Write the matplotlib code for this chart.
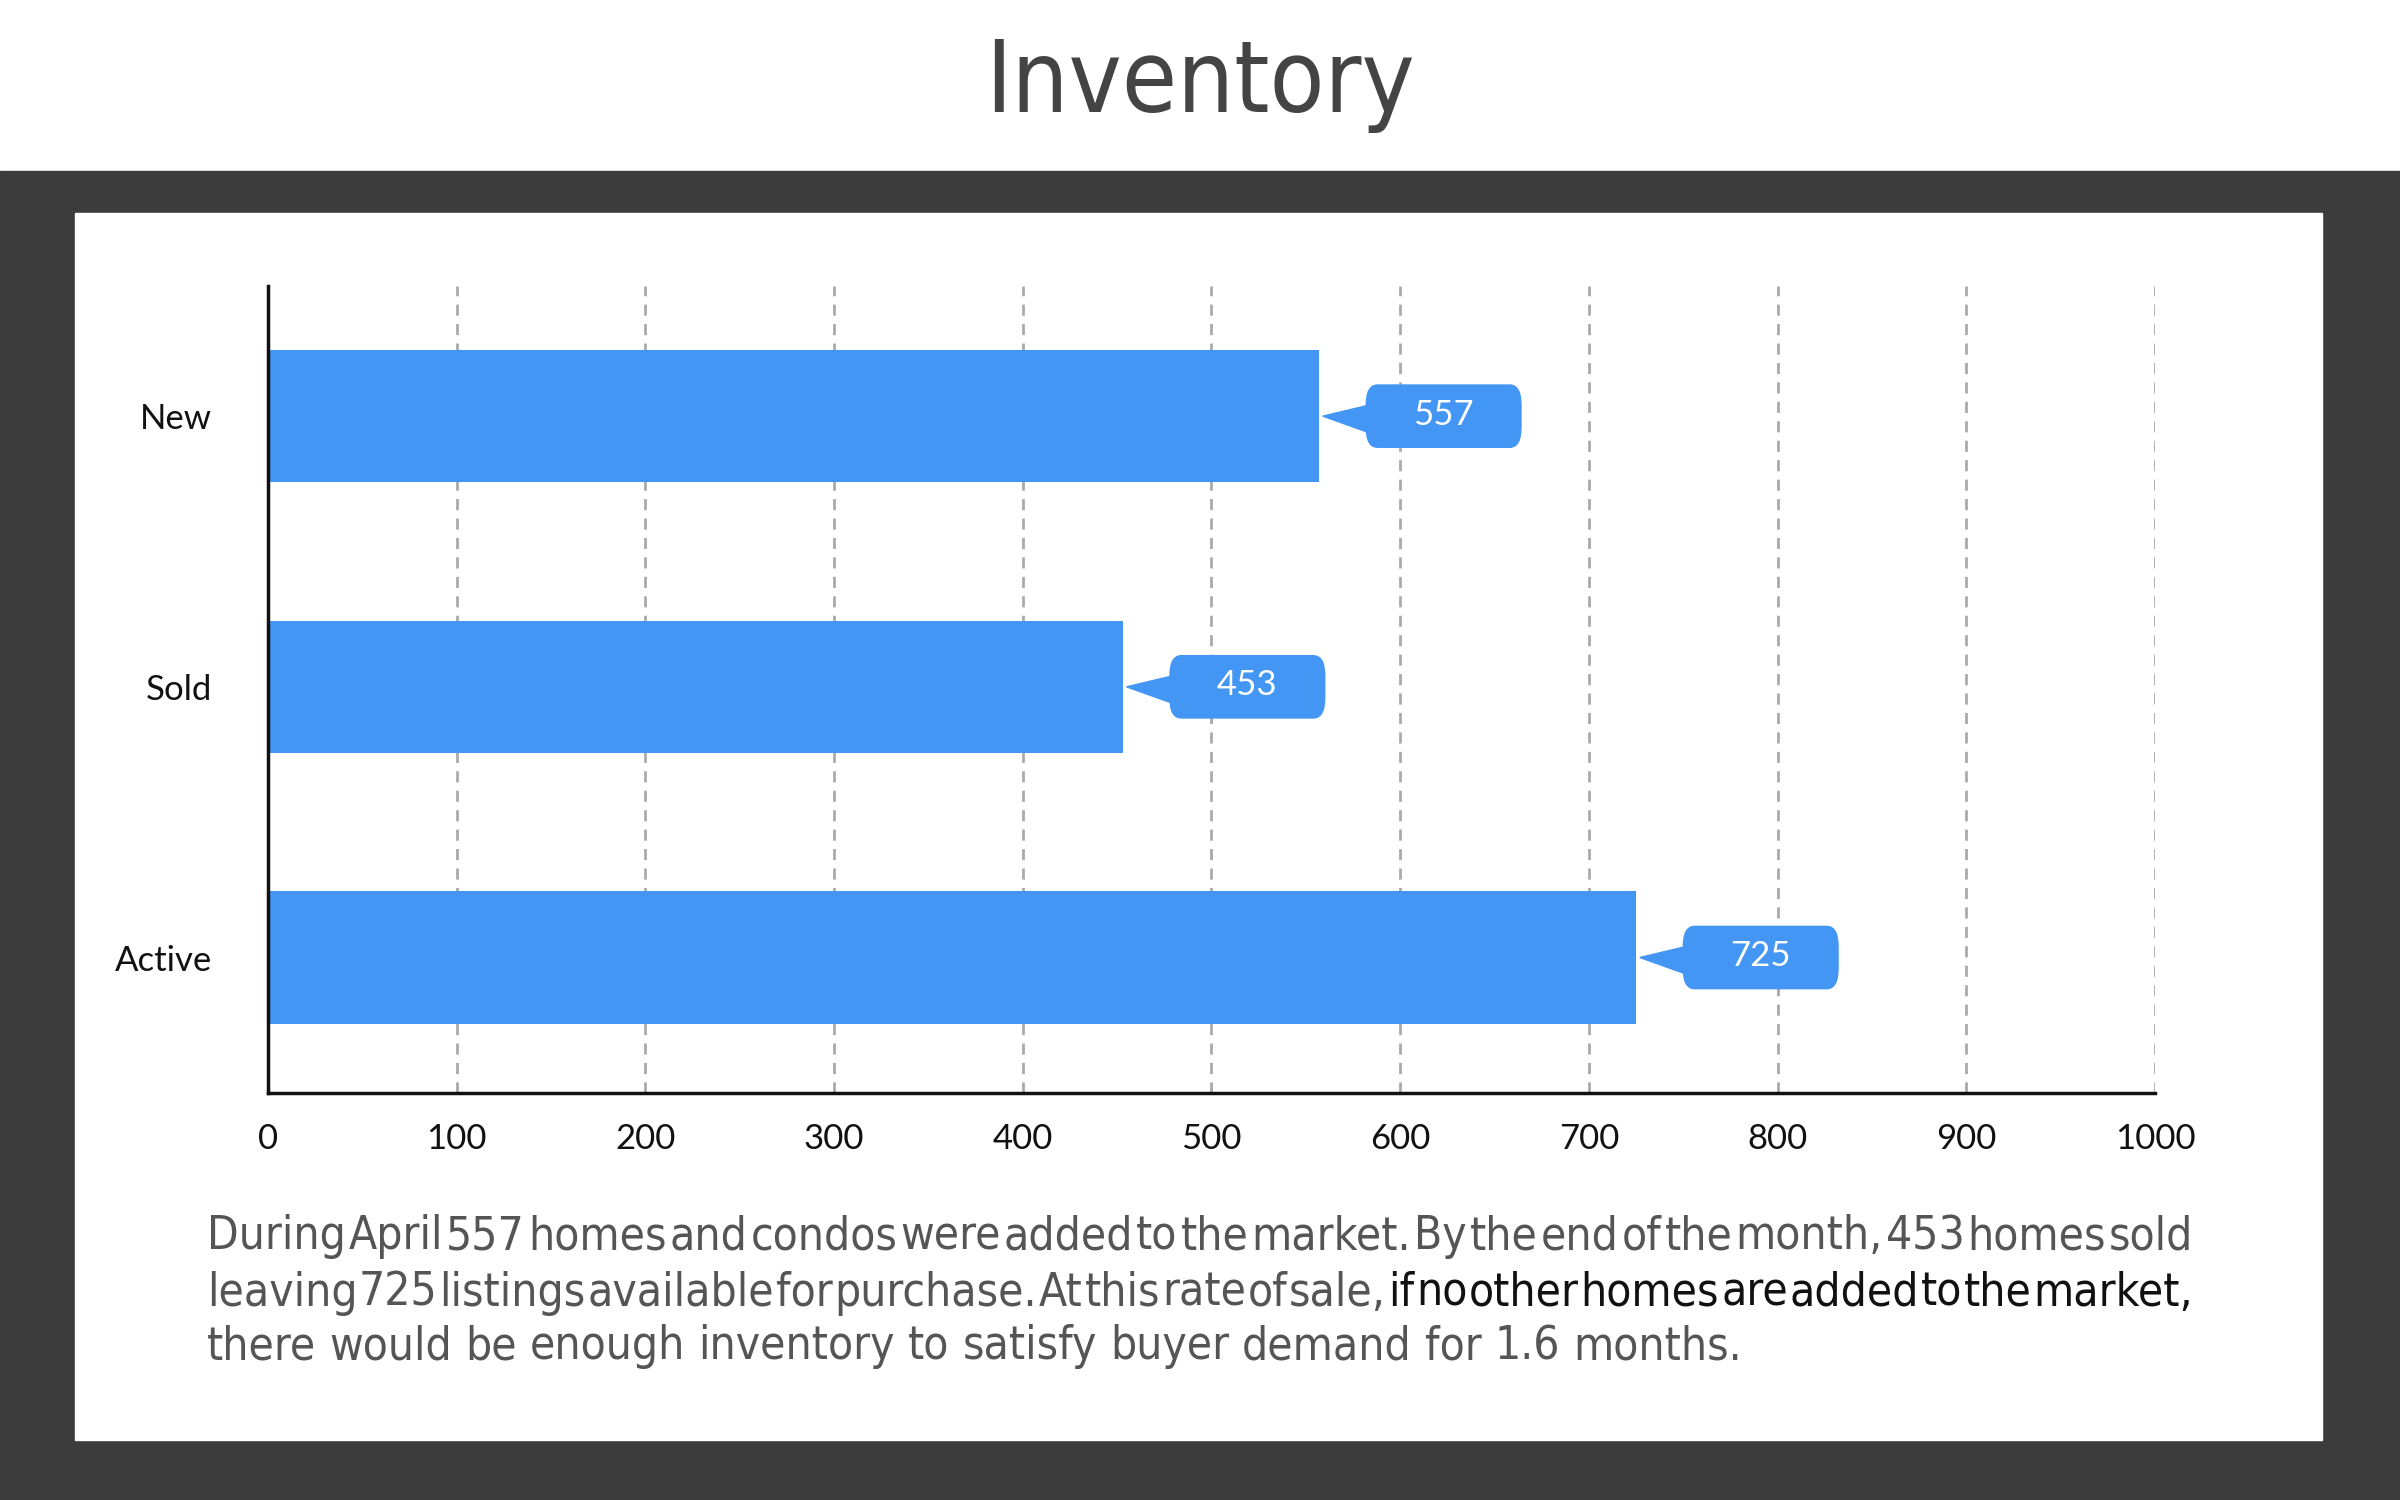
import matplotlib
matplotlib.use("Agg")
import matplotlib.pyplot as plt
from matplotlib.patches import Rectangle, FancyBboxPatch, Polygon

categories = ["Active", "Sold", "New"]
values = [725, 453, 557]
xticks = [0, 100, 200, 300, 400, 500, 600, 700, 800, 900, 1000]
title = "Inventory"
lines = [
    [("During April 557 homes and condos were added to the market. By the end of the month, 453 homes sold", "#555555")],
    [("leaving 725 listings available for purchase. At this rate of sale,", "#555555"), ("if no other homes are added to the market,", "#111111")],
    [("there would be enough inventory to satisfy buyer demand for 1.6 months.", "#555555")],
]

W, H = 1568, 980
fig = plt.figure(figsize=(24, 15), dpi=100)
bg = fig.add_axes([0, 0, 1, 1])
bg.set_xlim(0, W); bg.set_ylim(H, 0); bg.axis("off")
bg.add_patch(Rectangle((0, 112), W, H - 112, color="#3c3c3c"))
bg.add_patch(Rectangle((49, 139), 1517 - 49, 941 - 139, color="white"))
bg.text(W / 2, 55, title, ha="center", va="center", fontsize=72, color="#444444",
        family="DejaVu Sans", fontstretch="condensed")

def fx(px): return px / W
def fy(py): return 1 - py / H
ax = fig.add_axes([fx(175), fy(714), fx(1408) - fx(175), fy(187) - fy(714)])
ypos = list(range(len(categories)))
ax.barh(ypos, values, height=0.49, color="#4496f4", zorder=3)
ax.set_xlim(0, 1000); ax.set_ylim(-0.5, 2.48)
ax.set_xticks(xticks)
ax.set_xticklabels([str(t) for t in xticks], fontsize=25, family="Lato", color="#111111")
ax.set_yticks(ypos)
ax.set_yticklabels(categories, fontsize=25, family="Lato", color="#111111")
ax.tick_params(length=0, pad=22)
ax.tick_params(axis="y", pad=40)
for t in xticks[1:]:
    ax.axvline(t, color="#aaaaaa", ls=(0, (4, 3)), lw=2, zorder=1)
for s in ["top", "right"]:
    ax.spines[s].set_visible(False)
for s in ["left", "bottom"]:
    ax.spines[s].set_linewidth(2.5); ax.spines[s].set_color("#111111")
ax.spines["left"].set_zorder(5)

for y, v in zip(ypos, values):
    x0 = v + 25; w = 82; h = 0.23
    ax.add_patch(FancyBboxPatch((x0, y - h / 2), w, h, boxstyle="round,pad=0,rounding_size=6",
                                mutation_aspect=0.0125, color="#4496f4", zorder=4, clip_on=False))
    ax.add_patch(Polygon([[v + 2, y], [x0 + 1, y - 0.06], [x0 + 1, y + 0.04]],
                         color="#4496f4", zorder=4, clip_on=False))
    ax.text(x0 + w / 2, y + 0.005, str(v), ha="center", va="center", fontsize=25,
            family="Lato", color="white", zorder=5)

# justified paragraph
fig.canvas.draw()
r = fig.canvas.get_renderer()
left, right = 135, 1433
ys = [808, 845, 880]
fkw = dict(fontsize=33, family="DejaVu Sans", fontstretch="condensed")
for li, (segs, y) in enumerate(zip(lines, ys)):
    words = []
    for txt, col in segs:
        for wd in txt.split():
            words.append((wd, col))
    arts = []
    total = 0
    for wd, col in words:
        t = bg.text(0, y, wd, ha="left", va="center", color=col, **fkw)
        bb = t.get_window_extent(r)
        wpx = bb.width / fig.bbox.width * W
        arts.append((t, wpx)); total += wpx
    if li < len(lines) - 1:
        gap = (right - left - total) / (len(arts) - 1)
    else:
        sp = bg.text(0, y, "a a", **fkw); s2 = bg.text(0, y, "aa", **fkw)
        gap = (sp.get_window_extent(r).width - s2.get_window_extent(r).width) / fig.bbox.width * W
        sp.remove(); s2.remove()
    x = left
    for t, wpx in arts:
        t.set_x(x); x += wpx + gap

fig.savefig("out.png", dpi=100)
